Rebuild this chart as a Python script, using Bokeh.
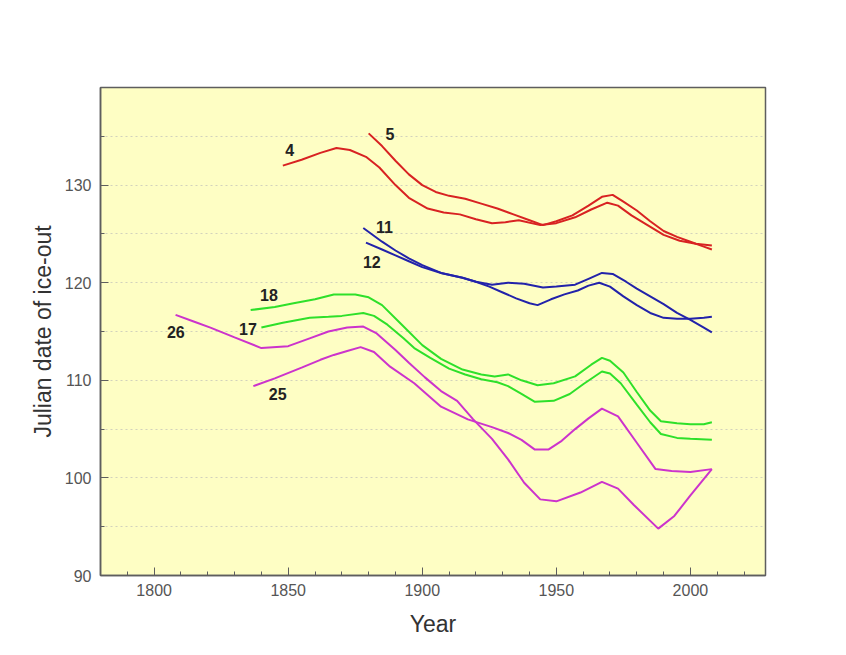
from bokeh.plotting import figure
from bokeh.models import Range1d, FixedTicker, ColumnDataSource
from bokeh.core.properties import value
from bokeh.embed import file_html
from bokeh.resources import INLINE

# ---- data ----
years_4 = [1848, 1855, 1862, 1868, 1873, 1879, 1884, 1890, 1895, 1902, 1908, 1914, 1920, 1926, 1931, 1936, 1944, 1950, 1957, 1963, 1969, 1973, 1978, 1984, 1990, 1996, 2002, 2008]
vals_4 = [132.0, 132.6, 133.3, 133.8, 133.6, 132.9, 131.8, 130.0, 128.7, 127.6, 127.2, 127.0, 126.5, 126.1, 126.2, 126.4, 125.9, 126.1, 126.7, 127.5, 128.2, 127.9, 126.9, 125.9, 124.9, 124.3, 124.0, 123.8]

years_5 = [1880, 1885, 1890, 1895, 1900, 1905, 1910, 1916, 1922, 1928, 1934, 1940, 1945, 1950, 1956, 1962, 1967, 1971, 1975, 1980, 1985, 1990, 1995, 2000, 2005, 2008]
vals_5 = [135.3, 134.0, 132.5, 131.1, 130.0, 129.3, 128.9, 128.6, 128.1, 127.6, 127.0, 126.4, 125.9, 126.3, 126.9, 127.9, 128.8, 129.0, 128.3, 127.4, 126.3, 125.3, 124.7, 124.2, 123.7, 123.4]

years_11 = [1878, 1885, 1890, 1895, 1900, 1907, 1915, 1920, 1925, 1930, 1935, 1940, 1943, 1948, 1953, 1958, 1962, 1966, 1970, 1975, 1980, 1985, 1990, 1995, 2000, 2005, 2008]
vals_11 = [125.6, 124.2, 123.3, 122.5, 121.8, 121.0, 120.5, 120.1, 119.6, 119.0, 118.4, 117.9, 117.7, 118.3, 118.8, 119.2, 119.7, 120.0, 119.6, 118.6, 117.7, 116.9, 116.4, 116.3, 116.3, 116.4, 116.5]

years_12 = [1879, 1885, 1890, 1895, 1900, 1907, 1915, 1920, 1926, 1932, 1938, 1945, 1950, 1957, 1962, 1967, 1971, 1976, 1980, 1985, 1990, 1995, 2000, 2005, 2008]
vals_12 = [124.1, 123.4, 122.8, 122.2, 121.6, 121.0, 120.5, 120.1, 119.8, 120.0, 119.9, 119.5, 119.6, 119.8, 120.4, 121.0, 120.9, 120.1, 119.4, 118.6, 117.8, 116.9, 116.2, 115.4, 114.9]

years_18 = [1836, 1845, 1852, 1860, 1867, 1875, 1880, 1885, 1892, 1900, 1907, 1915, 1922, 1927, 1932, 1937, 1943, 1949, 1957, 1963, 1967, 1970, 1975, 1980, 1985, 1989, 1995, 2000, 2005, 2008]
vals_18 = [117.2, 117.5, 117.9, 118.3, 118.8, 118.8, 118.5, 117.7, 115.8, 113.6, 112.2, 111.1, 110.6, 110.4, 110.6, 110.0, 109.5, 109.7, 110.4, 111.6, 112.3, 112.0, 110.8, 108.8, 106.9, 105.8, 105.6, 105.5, 105.5, 105.7]

years_17 = [1840, 1848, 1858, 1865, 1870, 1878, 1882, 1887, 1893, 1897, 1903, 1910, 1916, 1922, 1928, 1932, 1937, 1942, 1949, 1955, 1960, 1967, 1970, 1974, 1980, 1985, 1989, 1995, 2000, 2008]
vals_17 = [115.4, 115.9, 116.4, 116.5, 116.6, 116.9, 116.6, 115.7, 114.3, 113.3, 112.3, 111.2, 110.6, 110.1, 109.8, 109.4, 108.6, 107.8, 107.9, 108.6, 109.6, 110.9, 110.7, 109.7, 107.5, 105.7, 104.5, 104.1, 104.0, 103.9]

years_26 = [1808, 1815, 1821, 1830, 1840, 1850, 1858, 1865, 1872, 1878, 1883, 1890, 1895, 1901, 1907, 1913, 1919, 1926, 1932, 1938, 1944, 1950, 1959, 1967, 1973, 1979, 1988, 1994, 2000, 2008]
vals_26 = [116.7, 116.0, 115.4, 114.4, 113.3, 113.5, 114.3, 115.0, 115.4, 115.5, 114.8, 113.1, 111.8, 110.3, 108.9, 107.9, 106.0, 104.0, 101.9, 99.5, 97.8, 97.6, 98.5, 99.6, 98.9, 97.2, 94.8, 96.1, 98.2, 100.9]

years_25 = [1837, 1845, 1855, 1862, 1867, 1872, 1877, 1882, 1888, 1897, 1907, 1917, 1926, 1932, 1937, 1942, 1947, 1952, 1957, 1962, 1967, 1973, 1980, 1987, 1993, 2000, 2008]
vals_25 = [109.4, 110.2, 111.3, 112.1, 112.6, 113.0, 113.4, 112.9, 111.4, 109.7, 107.3, 106.0, 105.2, 104.6, 103.9, 102.9, 102.9, 103.8, 105.0, 106.1, 107.1, 106.3, 103.6, 100.9, 100.7, 100.6, 100.9]

label_text = ["4", "5", "11", "12", "18", "17", "26", "25"]
label_x = [1850.6, 1887.9, 1885.9, 1881.2, 1842.8, 1835.0, 1808.1, 1846.1]
label_y = [133.6, 135.2, 125.7, 122.1, 118.7, 115.3, 114.9, 108.6]

y_major = [90, 100, 110, 120, 130]
y_minor = [95, 105, 115, 125, 135]
y_grid = [95, 100, 105, 110, 115, 120, 125, 130, 135]
x_major = [1800, 1850, 1900, 1950, 2000]
x_minor = [1790, 1810, 1820, 1830, 1840, 1860, 1870, 1880, 1890, 1910, 1920, 1930,
           1940, 1960, 1970, 1980, 1990, 2010, 2020]

RED = "#d82222"
BLUE = "#2222aa"
GREEN = "#2ee02a"
MAGENTA = "#cc33cc"

series = [
    (years_4, vals_4, RED),
    (years_5, vals_5, RED),
    (years_11, vals_11, BLUE),
    (years_12, vals_12, BLUE),
    (years_18, vals_18, GREEN),
    (years_17, vals_17, GREEN),
    (years_26, vals_26, MAGENTA),
    (years_25, vals_25, MAGENTA),
]

FONT = "Liberation Sans"

p = figure(width=830, height=639, output_backend="svg", toolbar_location=None,
           x_range=Range1d(1780, 2028), y_range=Range1d(90, 140),
           min_border_left=100, min_border_right=65, min_border_top=87, min_border_bottom=62)

p.background_fill_color = "#fefec4"
p.border_fill_color = "white"
p.outline_line_color = "#5e5e5e"
p.outline_line_width = 1.5

p.xgrid.visible = False
p.ygrid.ticker = FixedTicker(ticks=y_grid)
p.ygrid.grid_line_color = "#d2d2bc"
p.ygrid.grid_line_dash = "2 3"
p.ygrid.grid_line_width = 1

p.xaxis.ticker = FixedTicker(ticks=x_major, minor_ticks=x_minor)
p.yaxis.ticker = FixedTicker(ticks=y_major, minor_ticks=y_minor)

for ax in (p.xaxis, p.yaxis):
    ax.axis_line_color = "#5e5e5e"
    ax.axis_line_width = 1.5
    ax.major_tick_in = 8
    ax.major_tick_out = 0
    ax.minor_tick_in = 4
    ax.minor_tick_out = 0
    ax.major_tick_line_color = "#5e5e5e"
    ax.minor_tick_line_color = "#5e5e5e"
    ax.major_label_text_font = FONT
    ax.major_label_text_font_size = "16px"
    ax.major_label_text_color = "#555555"
    ax.axis_label_text_font = FONT
    ax.axis_label_text_font_style = "normal"
    ax.axis_label_text_color = "#333333"
    ax.axis_label_text_font_size = "23px"

p.xaxis.major_label_standoff = 8
p.yaxis.major_label_standoff = 9
p.xaxis.axis_label = "Year"
p.yaxis.axis_label = "Julian date of ice-out"
p.xaxis.axis_label_standoff = 12
p.yaxis.axis_label_standoff = 6

for xs, ys, col in series:
    p.line(xs, ys, line_color=col, line_width=2)

src = ColumnDataSource(dict(x=label_x, y=label_y, t=label_text))
p.text(x="x", y="y", text="t", source=src, text_align="center", text_baseline="middle",
       text_font=value(FONT), text_font_size="16px", text_font_style="bold",
       text_color="#222222")

open("out.html", "w").write(file_html(p, INLINE))
